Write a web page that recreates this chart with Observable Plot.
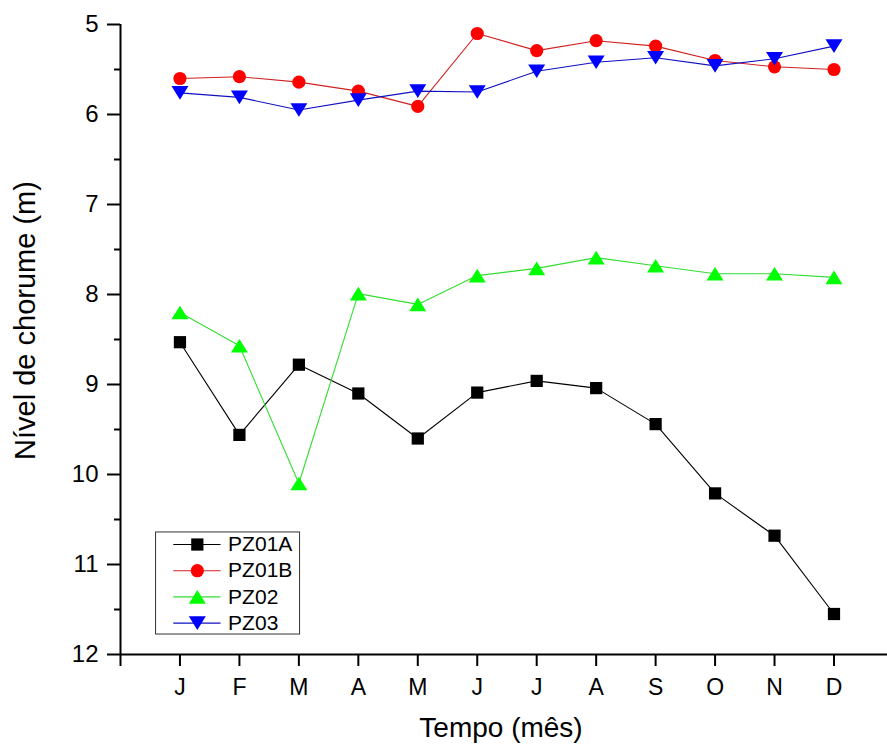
<!DOCTYPE html>
<html>
<head>
<meta charset="utf-8">
<script src="https://cdn.jsdelivr.net/npm/d3@7"></script>
<script src="https://cdn.jsdelivr.net/npm/@observablehq/plot@0.6"></script>
<style>
  html, body { margin: 0; padding: 0; background: #fff; }
  #chart svg { display: block; }
</style>
</head>
<body>
<div id="chart"></div>
<script>
// ---- data ----
const months = ["J", "F", "M", "A", "M", "J", "J", "A", "S", "O", "N", "D"];
const seriesNames = ["PZ01A", "PZ01B", "PZ02", "PZ03"];
const pz01a = [8.53, 9.56, 8.78, 9.10, 9.60, 9.09, 8.96, 9.04, 9.44, 10.21, 10.68, 11.55];
const pz01b = [5.60, 5.58, 5.64, 5.74, 5.91, 5.10, 5.29, 5.18, 5.24, 5.40, 5.47, 5.50];
const pz02  = [8.20, 8.57, 10.10, 7.99, 8.11, 7.79, 7.71, 7.59, 7.68, 7.77, 7.77, 7.81];
const pz03  = [5.76, 5.81, 5.95, 5.84, 5.74, 5.75, 5.52, 5.42, 5.37, 5.46, 5.38, 5.24];
const yTicks = [5, 6, 7, 8, 9, 10, 11, 12];
const yMinorTicks = [5.5, 6.5, 7.5, 8.5, 9.5, 10.5, 11.5];
const xLabel = "Tempo (mês)";
const yLabel = "Nível de chorume (m)";

// ---- styling ----
const colors = ["#000000", "#ff0000", "#00ff00", "#0000ff"];
const lineColors = ["#000000", "#d02020", "#33dd33", "#1010c0"];
const triUp = {
  draw(ctx, size) {
    const r = Math.sqrt(size / Math.PI);
    const w = 1.25 * r, h = 1.0 * r;
    ctx.moveTo(0, -h); ctx.lineTo(w, h); ctx.lineTo(-w, h); ctx.closePath();
  }
};
const triDown = {
  draw(ctx, size) {
    const r = Math.sqrt(size / Math.PI);
    const w = 1.25 * r, h = 1.0 * r;
    ctx.moveTo(0, h); ctx.lineTo(w, -h); ctx.lineTo(-w, -h); ctx.closePath();
  }
};
const symbols = ["square", "circle", triUp, triDown];
const radii = [6.9, 6.6, 6.8, 6.8];

const values = [pz01a, pz01b, pz02, pz03];
const rows = values.map((arr, s) => arr.map((v, i) => ({series: seriesNames[s], month: i + 1, value: v})));

// legend layout (in data units of the chart's scales)
const legendRowY = seriesNames.map((_, i) => 10.778 + i * 0.291);

const marks = [];
// axes
marks.push(Plot.axisY(yTicks, {anchor: "left", tickSize: 13, tickPadding: 9, fontSize: 24, strokeWidth: 2, tickFormat: (d) => String(d), label: null}));
marks.push(Plot.axisY(yMinorTicks, {anchor: "left", tickSize: 6, tickFormat: () => "", strokeWidth: 2, label: null}));
marks.push(Plot.axisX(d3.range(1, 13), {anchor: "bottom", tickSize: 12, tickPadding: 12, fontSize: 23, strokeWidth: 2, tickFormat: (d) => months[d - 1], label: null}));
marks.push(Plot.axisX([0], {anchor: "bottom", tickSize: 12, tickFormat: () => "", strokeWidth: 2, label: null}));
marks.push(Plot.ruleX([0], {stroke: "black", strokeWidth: 2}));
marks.push(Plot.ruleY([12], {stroke: "black", strokeWidth: 2}));

// series
rows.forEach((data, s) => {
  marks.push(Plot.line(data, {x: "month", y: "value", stroke: lineColors[s], strokeWidth: 1.1}));
  marks.push(Plot.dot(data, {x: "month", y: "value", symbol: () => symbols[s], fill: colors[s], stroke: "none", r: radii[s]}));
});

// legend
marks.push(Plot.rect([0], {x1: 0.598, x2: 3.02, y1: 10.644, y2: 11.778, fill: "white", stroke: "#333", strokeWidth: 1}));
seriesNames.forEach((name, i) => {
  marks.push(Plot.ruleY([legendRowY[i]], {x1: 0.896, x2: 1.691, stroke: lineColors[i], strokeWidth: 1.1}));
  marks.push(Plot.dot([legendRowY[i]], {x: () => 1.292, y: (d) => d, symbol: () => symbols[i], fill: colors[i], stroke: "none", r: radii[i]}));
  marks.push(Plot.text([name], {x: () => 1.81, y: () => legendRowY[i], text: (d) => d, textAnchor: "start", fontSize: 21, fill: "black"}));
});

// axis titles
marks.push(Plot.text([xLabel], {frameAnchor: "bottom", text: (d) => d, textAnchor: "middle", lineAnchor: "middle", dy: 74, dx: -3, fontSize: 28, fill: "black"}));
marks.push(Plot.text([yLabel], {frameAnchor: "left", text: (d) => d, textAnchor: "middle", lineAnchor: "middle", rotate: -90, dx: -95, dy: -19, fontSize: 29, fill: "black"}));

const chart = Plot.plot({
  width: 887,
  height: 747,
  marginTop: 24,
  marginBottom: 93,
  marginLeft: 120,
  marginRight: 0,
  style: {fontFamily: "'Liberation Sans', Arial, sans-serif", color: "black", background: "white", overflow: "visible"},
  x: {domain: [0, 12.9], axis: null},
  y: {domain: [5, 12], reverse: true, axis: null},
  marks
});
document.getElementById("chart").appendChild(chart);
</script>
</body>
</html>
